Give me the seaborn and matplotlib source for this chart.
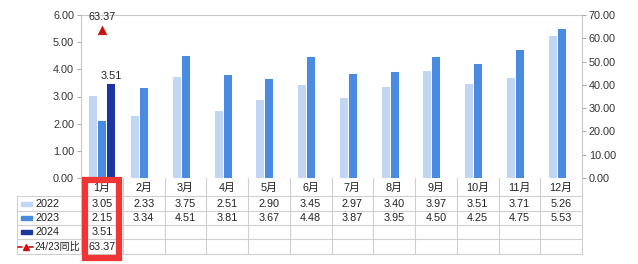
import numpy as np
import pandas as pd
import seaborn as sns
import matplotlib.pyplot as plt
from matplotlib.transforms import blended_transform_factory
from matplotlib.patches import Rectangle
from matplotlib.lines import Line2D

months = ["1月", "2月", "3月", "4月", "5月", "6月", "7月", "8月", "9月", "10月", "11月", "12月"]
v2022 = [3.05, 2.33, 3.75, 2.51, 2.90, 3.45, 2.97, 3.40, 3.97, 3.51, 3.71, 5.26]
v2023 = [2.15, 3.34, 4.51, 3.81, 3.67, 4.48, 3.87, 3.95, 4.50, 4.25, 4.75, 5.53]
v2024 = [3.51] + [np.nan] * 11
yoy = [63.37] + [np.nan] * 11
series = ["2022", "2023", "2024"]
yoy_label = "24/23同比"
colors = {"2022": "#c0d6f4", "2023": "#4a8be2", "2024": "#1b36a2"}
yoy_color = "#c81010"

sns.set_theme(style="white")
plt.rcParams['font.family'] = ['Liberation Sans', 'Noto Sans CJK SC', 'DejaVu Sans']

rows = []
for s, vals in zip(series, [v2022, v2023, v2024]):
    for m, v in zip(months, vals):
        rows.append({"month": m, "series": s, "value": v})
df = pd.DataFrame(rows)

W, H = 638, 264
fig = plt.figure(figsize=(W / 100, H / 100), dpi=100)
L, R, T, B = 81, 582, 15, 178
ax = fig.add_axes([L / W, 1 - B / H, (R - L) / W, (B - T) / H])

sns.barplot(data=df, x="month", y="value", hue="series", hue_order=series,
            order=months, palette=colors, width=0.65, dodge=True, saturation=1,
            edgecolor="white", linewidth=0.7, ax=ax, legend=False)
ax.set_xlim(-0.5, len(months) - 0.5)
ax.set_ylim(0, 6)
ax.set_yticks(np.arange(0, 6.01, 1))
ax.set_yticklabels([f"{v:.2f}" for v in np.arange(0, 6.01, 1)], fontsize=7.8, color="#333333")
ax.set_xticks([])
ax.set_xlabel("")
ax.set_ylabel("")
for sp in ["left", "top", "right"]:
    ax.spines[sp].set_color("#c8c8c8")
    ax.spines[sp].set_linewidth(0.8)
ax.spines["bottom"].set_visible(False)
ax.tick_params(axis="y", length=3, width=0.6, color="#999999", pad=2, left=True)

# label on 2024 bars
for p in ax.patches:
    if p is None:
        continue
    h = p.get_height()
    if h > 0 and np.isclose(h, v2024[0]) and p.get_facecolor()[2] < 0.7:
        ax.annotate(f"{h:.2f}", (p.get_x() + p.get_width() / 2, h), xytext=(0, 1),
                    textcoords="offset points", ha="center", va="bottom",
                    fontsize=7.8, color="#222222")

ax2 = ax.twinx()
ax2.set_position(ax.get_position())
ydf = pd.DataFrame({"x": np.arange(len(months)), "yoy": yoy}).dropna()
sns.scatterplot(data=ydf, x="x", y="yoy", marker="^", color=yoy_color, s=38,
                edgecolor=yoy_color, ax=ax2, legend=False, zorder=5)
for _, r in ydf.iterrows():
    ax2.annotate(f"{r['yoy']:.2f}", (r["x"], r["yoy"]), xytext=(0, 6),
                 textcoords="offset points", ha="center", va="bottom",
                 fontsize=7.8, color="#222222")
ax2.set_ylim(0, 70)
ax2.set_yticks(np.arange(0, 70.1, 10))
ax2.set_yticklabels([f"{v:.2f}" for v in np.arange(0, 70.1, 10)], fontsize=7.8, color="#333333")
ax2.set_xlim(-0.5, len(months) - 0.5)
ax2.set_xlabel("")
ax2.set_ylabel("")
for sp in ["left", "top", "right", "bottom"]:
    ax2.spines[sp].set_visible(False)
ax2.tick_params(axis="y", length=3, width=0.6, color="#999999", pad=2, right=True)
ax2.grid(False)
ax.grid(False)

# data table
tr = blended_transform_factory(ax.transData, fig.transFigure)
trf = fig.transFigure
fy = lambda py: 1 - py / H
fx = lambda px: px / W
gc = "#cfcfcf"
row_lines = [196, 211, 225, 239, 254]
for py in row_lines:
    fig.add_artist(Line2D([fx(17), fx(R)], [fy(py), fy(py)], color=gc, lw=0.8, transform=trf))
for i in range(len(months) + 1):
    fig.add_artist(Line2D([i - 0.5, i - 0.5], [fy(B), fy(254)], color=gc, lw=0.8, transform=tr))
fig.add_artist(Line2D([fx(17), fx(17)], [fy(196), fy(254)], color=gc, lw=0.8, transform=trf))

hdr_y = 188
row_y = [204, 218, 232, 247]
for i, m in enumerate(months):
    fig.text(i, fy(hdr_y), m, transform=tr, ha="center", va="center", fontsize=7.8, color="#222222")
for vals, py in zip([v2022, v2023, v2024, yoy], row_y):
    for i, v in enumerate(vals):
        if not np.isnan(v):
            fig.text(i, fy(py), f"{v:.2f}", transform=tr, ha="center", va="center",
                     fontsize=7.8, color="#222222")

for s, py in zip(series, row_y[:3]):
    fig.add_artist(Rectangle((fx(21), fy(py + 2)), fx(11), 4 / H, color=colors[s], transform=trf))
    fig.text(fx(35), fy(py), s, transform=trf, ha="left", va="center", fontsize=7.8, color="#222222")
fig.add_artist(Line2D([fx(18), fx(22)], [fy(row_y[3]), fy(row_y[3])], color=yoy_color, lw=1.2,
                      transform=trf))
fig.add_artist(Line2D([fx(29), fx(33)], [fy(row_y[3]), fy(row_y[3])], color=yoy_color, lw=1.2,
                      transform=trf))
fig.add_artist(Line2D([fx(25.5)], [fy(row_y[3])], color=yoy_color, marker="^", ms=4.5, lw=0, transform=trf))
fig.text(fx(34), fy(row_y[3]), yoy_label, transform=trf, ha="left", va="center", fontsize=7.3, color="#222222")

# highlight box
fig.add_artist(Rectangle((fx(84.5), fy(257.5)), fx(34), (257.5 - 180) / H, fill=False,
                         edgecolor="#f03535", lw=4.5, transform=trf, zorder=10))

fig.savefig("out.png", dpi=100, facecolor="white")
